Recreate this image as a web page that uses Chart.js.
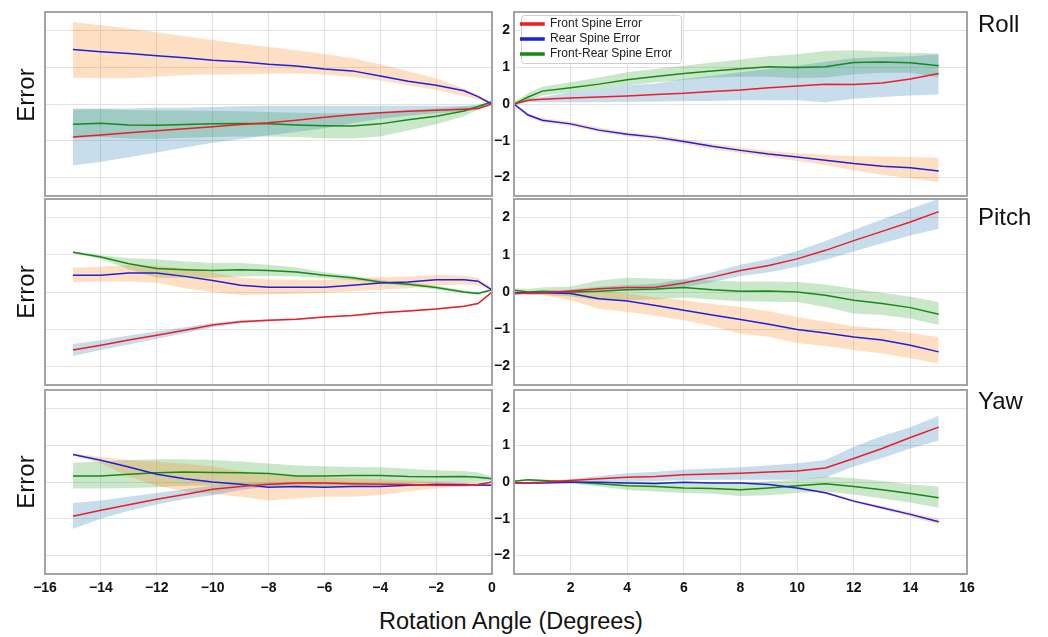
<!DOCTYPE html>
<html>
<head>
<meta charset="utf-8">
<script src="https://cdn.jsdelivr.net/npm/chart.js@4.4.0/dist/chart.umd.min.js"></script>
<style>
body { margin: 0; background: #fff; }
#wrap { position: relative; width: 1048px; height: 637px; font-family: 'Liberation Sans', Arial, sans-serif; color: #111; }
canvas { position: absolute; }
.lbl { position: absolute; white-space: nowrap; line-height: 1; }
.err { font-size: 24px; left: 26px; transform: translate(-50%, -50%) rotate(-90deg); }
.ttl { font-size: 24px; left: 978px; }
</style>
</head>
<body>
<div id="wrap">
  <canvas id="rollL"></canvas>
  <canvas id="rollR"></canvas>
  <canvas id="pitchL"></canvas>
  <canvas id="pitchR"></canvas>
  <canvas id="yawL"></canvas>
  <canvas id="yawR"></canvas>
  <div class="lbl err" style="top:95px">Error</div>
  <div class="lbl err" style="top:292px">Error</div>
  <div class="lbl err" style="top:482px">Error</div>
  <div class="lbl ttl" style="top:12px">Roll</div>
  <div class="lbl ttl" style="top:205px">Pitch</div>
  <div class="lbl ttl" style="top:389px">Yaw</div>
  <div class="lbl" style="font-size:23.5px; left:511px; top:610px; transform:translateX(-50%)">Rotation Angle (Degrees)</div>
</div>
<script>
// x positions (degrees)
var leftX = [-15, -14, -13, -12, -11, -10, -9, -8, -7, -6, -5, -4, -3, -2, -1, -0.5, 0];
var rightX = [0, 0.5, 1, 2, 3, 4, 5, 6, 7, 8, 9, 10, 11, 12, 13, 14, 15];
var leftTicks = [-16, -14, -12, -10, -8, -6, -4, -2, 0];
var rightTicks = [0, 2, 4, 6, 8, 10, 12, 14, 16];
var yTicks = [-2, -1, 0, 1, 2];
var seriesNames = ['Front Spine Error', 'Rear Spine Error', 'Front-Rear Spine Error'];

// Roll, negative side
var rollLeftFront = [-0.90, -0.84, -0.78, -0.73, -0.67, -0.62, -0.56, -0.51, -0.44, -0.36, -0.29, -0.24, -0.20, -0.17, -0.14, -0.12, 0.0];
var rollLeftFrontLo = [-1.67, -1.57, -1.45, -1.32, -1.18, -1.05, -0.95, -0.85, -0.76, -0.66, -0.52, -0.40, -0.32, -0.25, -0.20, -0.16, -0.02];
var rollLeftFrontHi = [-0.12, -0.12, -0.12, -0.10, -0.10, -0.08, -0.06, -0.05, -0.05, -0.05, -0.05, -0.05, -0.05, -0.05, -0.05, -0.04, 0.02];
var rollLeftRear = [1.48, 1.42, 1.37, 1.31, 1.26, 1.19, 1.15, 1.08, 1.03, 0.95, 0.90, 0.76, 0.62, 0.51, 0.36, 0.20, 0.0];
var rollLeftRearLo = [0.71, 0.70, 0.70, 0.74, 0.79, 0.80, 0.81, 0.82, 0.83, 0.80, 0.74, 0.64, 0.51, 0.38, 0.22, 0.12, -0.02];
var rollLeftRearHi = [2.23, 2.14, 2.05, 1.95, 1.84, 1.74, 1.64, 1.55, 1.46, 1.36, 1.24, 1.08, 0.89, 0.70, 0.42, 0.25, 0.02];
var rollLeftBoth = [-0.55, -0.52, -0.57, -0.58, -0.56, -0.54, -0.53, -0.54, -0.57, -0.59, -0.60, -0.54, -0.43, -0.33, -0.19, -0.07, 0.06];
var rollLeftBothLo = [-0.92, -0.90, -0.94, -0.95, -0.92, -0.90, -0.88, -0.88, -0.90, -0.93, -0.94, -0.88, -0.72, -0.55, -0.33, -0.14, 0.04];
var rollLeftBothHi = [-0.15, -0.14, -0.16, -0.18, -0.18, -0.19, -0.20, -0.22, -0.24, -0.25, -0.25, -0.22, -0.16, -0.12, -0.06, -0.02, 0.08];

// Roll, positive side
var rollRightFront = [0, 0.10, 0.13, 0.16, 0.19, 0.22, 0.26, 0.29, 0.34, 0.38, 0.44, 0.49, 0.54, 0.53, 0.57, 0.68, 0.83];
var rollRightFrontLo = [0, 0.05, 0.05, 0.05, 0.05, 0.06, 0.06, 0.08, 0.08, 0.10, 0.10, 0.10, 0.05, 0.14, 0.19, 0.23, 0.26];
var rollRightFrontHi = [0, 0.15, 0.19, 0.32, 0.41, 0.50, 0.56, 0.68, 0.77, 0.86, 0.95, 1.04, 1.15, 1.24, 1.28, 1.30, 1.35];
var rollRightRear = [0, -0.30, -0.44, -0.54, -0.71, -0.82, -0.90, -1.02, -1.15, -1.26, -1.36, -1.44, -1.53, -1.62, -1.69, -1.73, -1.82];
var rollRightRearLo = [-0.02, -0.36, -0.50, -0.60, -0.77, -0.88, -0.97, -1.09, -1.23, -1.34, -1.45, -1.55, -1.66, -1.80, -1.92, -2.02, -2.12];
var rollRightRearHi = [0.02, -0.25, -0.38, -0.48, -0.64, -0.76, -0.84, -0.95, -1.07, -1.18, -1.27, -1.34, -1.38, -1.42, -1.43, -1.44, -1.46];
var rollRightBoth = [0, 0.19, 0.35, 0.44, 0.54, 0.66, 0.75, 0.83, 0.90, 0.96, 1.01, 0.99, 1.01, 1.13, 1.14, 1.12, 1.04];
var rollRightBothLo = [-0.05, 0.08, 0.23, 0.32, 0.41, 0.50, 0.59, 0.65, 0.72, 0.74, 0.74, 0.70, 0.72, 0.80, 0.85, 0.85, 0.72];
var rollRightBothHi = [0.05, 0.30, 0.47, 0.59, 0.72, 0.86, 0.95, 1.04, 1.13, 1.21, 1.30, 1.35, 1.44, 1.46, 1.43, 1.39, 1.37];

// Pitch, negative side
var pitchLeftFront = [-1.56, -1.43, -1.29, -1.16, -1.03, -0.89, -0.80, -0.76, -0.73, -0.67, -0.63, -0.56, -0.51, -0.46, -0.38, -0.31, 0.0];
var pitchLeftFrontLo = [-1.72, -1.56, -1.41, -1.26, -1.11, -0.95, -0.84, -0.79, -0.75, -0.69, -0.65, -0.58, -0.53, -0.48, -0.40, -0.33, -0.02];
var pitchLeftFrontHi = [-1.40, -1.30, -1.17, -1.06, -0.95, -0.83, -0.76, -0.73, -0.71, -0.65, -0.61, -0.54, -0.49, -0.44, -0.36, -0.29, 0.02];
var pitchLeftRear = [0.45, 0.45, 0.51, 0.51, 0.42, 0.31, 0.18, 0.13, 0.13, 0.13, 0.18, 0.24, 0.27, 0.33, 0.33, 0.29, 0.06];
var pitchLeftRearLo = [0.27, 0.28, 0.28, 0.25, 0.10, 0.00, -0.08, -0.07, -0.05, -0.02, 0.02, 0.06, 0.10, 0.18, 0.20, 0.18, 0.04];
var pitchLeftRearHi = [0.65, 0.68, 0.72, 0.70, 0.64, 0.52, 0.38, 0.34, 0.33, 0.33, 0.36, 0.40, 0.42, 0.46, 0.44, 0.38, 0.08];
var pitchLeftBoth = [1.07, 0.94, 0.76, 0.63, 0.60, 0.58, 0.60, 0.58, 0.54, 0.45, 0.38, 0.27, 0.21, 0.12, 0.00, -0.04, 0.06];
var pitchLeftBothLo = [1.04, 0.89, 0.61, 0.38, 0.38, 0.38, 0.42, 0.43, 0.42, 0.37, 0.32, 0.22, 0.16, 0.07, -0.04, -0.07, 0.04];
var pitchLeftBothHi = [1.10, 0.99, 0.91, 0.88, 0.82, 0.78, 0.78, 0.73, 0.66, 0.53, 0.44, 0.32, 0.26, 0.17, 0.04, -0.01, 0.08];

// Pitch, positive side
var pitchRightFront = [-0.05, -0.03, -0.02, 0.03, 0.09, 0.12, 0.13, 0.24, 0.40, 0.58, 0.71, 0.89, 1.12, 1.38, 1.63, 1.88, 2.16];
var pitchRightFrontLo = [-0.07, -0.06, -0.05, -0.01, 0.04, 0.05, 0.04, 0.13, 0.27, 0.43, 0.53, 0.68, 0.87, 1.09, 1.31, 1.52, 1.70];
var pitchRightFrontHi = [-0.03, 0.0, 0.01, 0.07, 0.14, 0.19, 0.22, 0.35, 0.53, 0.73, 0.89, 1.10, 1.37, 1.67, 1.95, 2.24, 2.50];
var pitchRightRear = [-0.03, -0.02, -0.02, -0.04, -0.18, -0.24, -0.36, -0.49, -0.62, -0.74, -0.87, -1.01, -1.10, -1.21, -1.29, -1.43, -1.61];
var pitchRightRearLo = [-0.06, -0.06, -0.08, -0.22, -0.45, -0.54, -0.64, -0.76, -0.92, -1.12, -1.20, -1.37, -1.45, -1.56, -1.65, -1.78, -1.92];
var pitchRightRearHi = [0.0, 0.02, 0.02, 0.04, 0.04, -0.04, -0.15, -0.22, -0.32, -0.40, -0.52, -0.67, -0.80, -0.92, -0.98, -1.10, -1.21];
var pitchRightBoth = [0.05, 0.0, 0.02, 0.0, 0.02, 0.06, 0.08, 0.12, 0.06, 0.02, 0.03, 0.0, -0.09, -0.22, -0.31, -0.42, -0.60];
var pitchRightBothLo = [0.0, -0.08, -0.08, -0.12, -0.22, -0.22, -0.20, -0.15, -0.20, -0.25, -0.26, -0.27, -0.40, -0.58, -0.62, -0.71, -0.89];
var pitchRightBothHi = [0.10, 0.08, 0.12, 0.15, 0.31, 0.38, 0.36, 0.33, 0.31, 0.28, 0.28, 0.27, 0.20, 0.09, -0.02, -0.13, -0.27];

// Yaw, negative side
var yawLeftFront = [-0.93, -0.77, -0.62, -0.47, -0.34, -0.20, -0.12, -0.06, -0.03, -0.03, -0.05, -0.06, -0.07, -0.09, -0.09, -0.07, 0.0];
var yawLeftFrontLo = [-1.27, -1.00, -0.78, -0.61, -0.46, -0.36, -0.22, -0.12, -0.07, -0.07, -0.08, -0.09, -0.10, -0.12, -0.12, -0.10, -0.02];
var yawLeftFrontHi = [-0.57, -0.50, -0.40, -0.30, -0.20, -0.10, -0.05, -0.02, 0.0, 0.0, -0.02, -0.03, -0.04, -0.06, -0.06, -0.05, 0.02];
var yawLeftRear = [0.75, 0.59, 0.41, 0.21, 0.09, 0.0, -0.06, -0.14, -0.12, -0.14, -0.12, -0.12, -0.09, -0.06, -0.07, -0.08, -0.09];
var yawLeftRearLo = [0.72, 0.50, 0.15, -0.10, -0.25, -0.32, -0.40, -0.50, -0.45, -0.40, -0.40, -0.35, -0.25, -0.18, -0.12, -0.12, -0.12];
var yawLeftRearHi = [0.78, 0.68, 0.60, 0.55, 0.50, 0.42, 0.30, 0.20, 0.15, 0.12, 0.10, 0.08, 0.05, 0.02, 0.0, -0.03, -0.05];
var yawLeftBoth = [0.16, 0.16, 0.21, 0.25, 0.27, 0.26, 0.25, 0.23, 0.16, 0.16, 0.18, 0.18, 0.15, 0.14, 0.15, 0.13, 0.09];
var yawLeftBothLo = [-0.18, -0.18, -0.16, -0.14, -0.10, -0.10, -0.08, -0.10, -0.15, -0.15, -0.12, -0.08, -0.05, -0.02, 0.0, 0.01, 0.04];
var yawLeftBothHi = [0.52, 0.56, 0.60, 0.62, 0.62, 0.60, 0.56, 0.50, 0.45, 0.43, 0.41, 0.40, 0.36, 0.32, 0.30, 0.26, 0.14];

// Yaw, positive side
var yawRightFront = [-0.03, -0.02, -0.01, 0.04, 0.09, 0.13, 0.15, 0.20, 0.22, 0.24, 0.27, 0.30, 0.38, 0.64, 0.91, 1.21, 1.49];
var yawRightFrontLo = [-0.05, -0.04, -0.03, 0.0, 0.02, 0.02, 0.03, 0.05, 0.06, 0.06, 0.06, 0.06, 0.12, 0.42, 0.65, 0.91, 1.13];
var yawRightFrontHi = [-0.01, 0.01, 0.02, 0.08, 0.16, 0.24, 0.28, 0.33, 0.37, 0.40, 0.45, 0.51, 0.60, 0.96, 1.25, 1.49, 1.80];
var yawRightRear = [-0.03, -0.03, -0.03, -0.01, -0.01, -0.03, -0.04, -0.01, -0.03, -0.03, -0.07, -0.16, -0.29, -0.52, -0.70, -0.88, -1.08];
var yawRightRearLo = [-0.05, -0.05, -0.05, -0.03, -0.03, -0.05, -0.06, -0.03, -0.05, -0.05, -0.09, -0.19, -0.32, -0.56, -0.75, -0.94, -1.16];
var yawRightRearHi = [-0.01, -0.01, -0.01, 0.01, 0.01, -0.01, -0.02, 0.01, -0.01, -0.01, -0.05, -0.13, -0.26, -0.48, -0.65, -0.82, -1.00];
var yawRightBoth = [0.02, 0.06, 0.04, 0.0, -0.05, -0.10, -0.12, -0.16, -0.18, -0.21, -0.16, -0.10, -0.05, -0.12, -0.21, -0.31, -0.43];
var yawRightBothLo = [0.0, 0.04, 0.01, -0.05, -0.12, -0.22, -0.26, -0.30, -0.32, -0.38, -0.36, -0.30, -0.26, -0.34, -0.45, -0.56, -0.70];
var yawRightBothHi = [0.04, 0.08, 0.07, 0.05, 0.02, 0.02, 0.0, -0.02, -0.02, -0.02, 0.02, 0.06, 0.15, 0.10, 0.03, -0.07, -0.12];

var lineColors = ['#ee1c24', '#1f1fe0', '#168a16'];
var bandColors = ['rgba(31,119,180,0.25)', 'rgba(255,127,14,0.25)', 'rgba(44,160,44,0.25)'];

Chart.defaults.font.family = "'Liberation Sans', Arial, sans-serif";
Chart.defaults.color = '#111';

function pts(xs, ys) {
  return xs.map(function (x, i) { return { x: x, y: ys[i] }; });
}

function minusSign(v) {
  return String(v).replace('-', '\u2212');
}

var framePlugin = {
  id: 'frame',
  afterDatasetsDraw: function (chart) {
    var a = chart.chartArea, ctx = chart.ctx;
    ctx.save();
    ctx.strokeStyle = '#a3a3a3';
    ctx.lineWidth = 2;
    ctx.strokeRect(a.left, a.top, a.right - a.left, a.bottom - a.top);
    ctx.restore();
  }
};

// white box with a light border behind the legend (like matplotlib)
var legendBoxPlugin = {
  id: 'legendBox',
  afterLayout: function (chart) {
    var lg = chart.legend;
    if (!lg) return;
    lg.left += 4; lg.right += 4; lg.top += 5; lg.bottom += 5;
    lg.legendHitBoxes.forEach(function (h) { h.left += 4; h.top += 5; });
  },
  afterDatasetsDraw: function (chart) {
    var lg = chart.legend;
    if (!lg || !lg.options.display || !lg.legendHitBoxes.length) return;
    var hb = lg.legendHitBoxes, ctx = chart.ctx;
    var l = 1e9, t = 1e9, r = -1e9, b = -1e9;
    hb.forEach(function (h) {
      l = Math.min(l, h.left); t = Math.min(t, h.top);
      r = Math.max(r, h.left + h.width); b = Math.max(b, h.top + h.height);
    });
    l -= 4; t -= 3; r += 5; b += 3;
    ctx.save();
    ctx.fillStyle = 'rgba(255,255,255,0.95)';
    ctx.strokeStyle = '#cccccc';
    ctx.lineWidth = 1;
    ctx.beginPath();
    ctx.roundRect(l + 0.5, t + 0.5, r - l, b - t, 3);
    ctx.fill();
    ctx.stroke();
    ctx.restore();
    lg.draw();
  }
};

var SIDE_PAD = 18;

function makePanel(id, rowTop, rowH, side, lines, bands, showX, showLegend) {
  var isLeft = side === 'left';
  var xs = isLeft ? leftX : rightX;
  var xTicks = isLeft ? leftTicks : rightTicks;
  var yAxisW = isLeft ? 0 : 30;
  var xAxisH = showX ? 24 : 0;
  var plotLeft = isLeft ? 45 : 514;
  var plotW = isLeft ? 447 : 453;

  var canvas = document.getElementById(id);
  canvas.width = SIDE_PAD + yAxisW + plotW + SIDE_PAD;
  canvas.height = 2 + rowH + xAxisH + 2;
  canvas.style.left = (plotLeft - yAxisW - SIDE_PAD) + 'px';
  canvas.style.top = (rowTop - 2) + 'px';

  var datasets = [];
  lines.forEach(function (ys, i) {
    datasets.push({
      label: seriesNames[i],
      data: pts(xs, ys),
      borderColor: lineColors[i],
      backgroundColor: lineColors[i],
      borderWidth: 1.5,
      pointRadius: 0,
      fill: false
    });
  });
  bands.forEach(function (band, i) {
    var loIndex = datasets.length;
    datasets.push({
      label: 'lo',
      data: pts(xs, band[0]),
      borderColor: 'rgba(0,0,0,0)',
      borderWidth: 0,
      pointRadius: 0,
      fill: false
    });
    datasets.push({
      label: 'hi',
      data: pts(xs, band[1]),
      borderColor: 'rgba(0,0,0,0)',
      backgroundColor: bandColors[i],
      borderWidth: 0,
      pointRadius: 0,
      fill: loIndex
    });
  });

  function noPad(axis) {
    axis.paddingLeft = 0; axis.paddingRight = 0;
    axis.paddingTop = 0; axis.paddingBottom = 0;
  }

  return new Chart(canvas, {
    type: 'line',
    data: { datasets: datasets },
    options: {
      responsive: false,
      animation: false,
      events: [],
      layout: { padding: { left: SIDE_PAD, right: SIDE_PAD, top: 2, bottom: 2 } },
      scales: {
        x: {
          type: 'linear',
          min: isLeft ? -16 : 0,
          max: isLeft ? 0 : 16,
          afterBuildTicks: function (axis) {
            axis.ticks = xTicks.map(function (v) { return { value: v }; });
          },
          afterFit: function (axis) { axis.height = xAxisH; noPad(axis); },
          grid: { color: '#e2e2e2', drawTicks: false },
          border: { display: false },
          ticks: {
            display: showX,
            padding: 6,
            maxRotation: 0,
            autoSkip: false,
            font: { size: 14, weight: 'bold' },
            callback: function (v) {
              if (!isLeft && v === 0) return '';
              return minusSign(v);
            }
          }
        },
        y: {
          min: -2.5,
          max: 2.5,
          afterBuildTicks: function (axis) {
            axis.ticks = yTicks.map(function (v) { return { value: v }; });
          },
          afterFit: function (axis) { axis.width = yAxisW; noPad(axis); },
          grid: { color: '#e2e2e2', drawTicks: false },
          border: { display: false },
          ticks: {
            display: !isLeft,
            padding: 4,
            font: { size: 14, weight: 'bold' },
            callback: function (v) { return minusSign(v); }
          }
        }
      },
      plugins: {
        legend: {
          display: showLegend,
          position: 'chartArea',
          align: 'start',
          labels: {
            boxWidth: 23,
            boxHeight: 2,
            padding: 3,
            color: '#222',
            font: { size: 12 },
            filter: function (item) { return item.datasetIndex < 3; }
          }
        },
        tooltip: { enabled: false }
      }
    },
    plugins: showLegend ? [framePlugin, legendBoxPlugin] : [framePlugin]
  });
}

makePanel('rollL', 12, 184, 'left',
  [rollLeftFront, rollLeftRear, rollLeftBoth],
  [[rollLeftFrontLo, rollLeftFrontHi], [rollLeftRearLo, rollLeftRearHi], [rollLeftBothLo, rollLeftBothHi]],
  false, false);
makePanel('rollR', 12, 184, 'right',
  [rollRightFront, rollRightRear, rollRightBoth],
  [[rollRightFrontLo, rollRightFrontHi], [rollRightRearLo, rollRightRearHi], [rollRightBothLo, rollRightBothHi]],
  false, true);
makePanel('pitchL', 199, 186, 'left',
  [pitchLeftFront, pitchLeftRear, pitchLeftBoth],
  [[pitchLeftFrontLo, pitchLeftFrontHi], [pitchLeftRearLo, pitchLeftRearHi], [pitchLeftBothLo, pitchLeftBothHi]],
  false, false);
makePanel('pitchR', 199, 186, 'right',
  [pitchRightFront, pitchRightRear, pitchRightBoth],
  [[pitchRightFrontLo, pitchRightFrontHi], [pitchRightRearLo, pitchRightRearHi], [pitchRightBothLo, pitchRightBothHi]],
  false, false);
makePanel('yawL', 390, 184, 'left',
  [yawLeftFront, yawLeftRear, yawLeftBoth],
  [[yawLeftFrontLo, yawLeftFrontHi], [yawLeftRearLo, yawLeftRearHi], [yawLeftBothLo, yawLeftBothHi]],
  true, false);
makePanel('yawR', 390, 184, 'right',
  [yawRightFront, yawRightRear, yawRightBoth],
  [[yawRightFrontLo, yawRightFrontHi], [yawRightRearLo, yawRightRearHi], [yawRightBothLo, yawRightBothHi]],
  true, false);
</script>
</body>
</html>
